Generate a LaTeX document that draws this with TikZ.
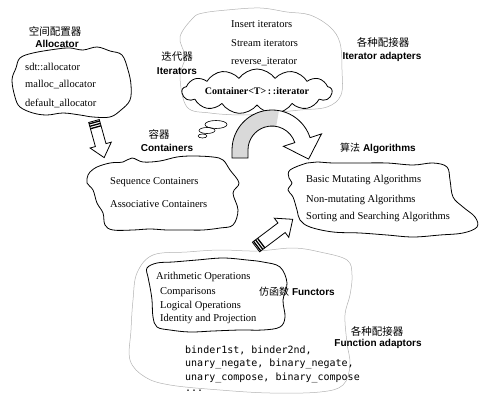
\documentclass[tikz,border=0pt]{standalone}
\usepackage{fontspec}
\setmainfont{Liberation Serif}
\setsansfont{Liberation Sans}
\setmonofont{DejaVu Sans Mono}
\newfontfamily\cjk{Noto Sans CJK SC}
\usetikzlibrary{calc,shapes.symbols}

\tikzset{
  blob/.style={line width=0.8pt, line join=round},
  halo/.style={gray!60, line width=0.5pt},
  item/.style={anchor=west, inner sep=0pt, font=\fontsize{10.5}{12}\selectfont},
  tag/.style={inner sep=0pt, font=\fontsize{10}{12}\sffamily\bfseries},
  zh/.style={inner sep=0pt, font=\fontsize{10.5}{12}\cjk},
  codeline/.style={anchor=west, inner sep=0pt, font=\fontsize{10}{12}\ttfamily},
  hollow/.style={line width=0.8pt, fill=white, line join=miter}
}

\begin{document}
\begin{tikzpicture}[x=1pt,y=-1pt]
  \useasboundingbox (0,0) rectangle (500,404);

  % allocator
  \node[zh] (alloczh) at (55,31) {空间配置器};
  \node[tag] (alloc) at (57,44) {Allocator};
  \draw[blob] plot[smooth cycle, tension=0.6] coordinates {(20,58) (33,53) (57,49) (70,48) (83,50) (97,47) (110,51) (122,55) (128,70) (131,85) (130,100) (121,110) (110,117) (93,117) (80,115) (63,113) (47,115) (33,113) (20,107) (15,97) (12,80) (16,68)};
  \node[item] (sdt) at (25,67) {sdt::allocator};
  \node[item] (malloc) at (25,85) {malloc\_allocator};
  \node[item] (default) at (25,103) {default\_allocator};

  % iterator adapters
  \draw[halo] plot[smooth cycle, tension=0.6] coordinates {(180,37) (193,18) (203,13) (227,10) (260,8) (287,12) (310,15) (330,27) (340,43) (342,70) (341,95) (327,107) (300,110) (270,113) (243,115) (210,113) (187,107) (180,77) (185,57)};
  \node[item] (insert) at (231,24) {Insert iterators};
  \node[item] (stream) at (231,43) {Stream iterators};
  \node[item] (reverse) at (231,62) {reverse\_iterator};
  \node[zh] (adaptzh) at (383,42) {各种配接器};
  \node[tag] (adapt) at (382,57) {Iterator adapters};
  \node[zh] (iterzh) at (177,57) {迭代器};
  \node[tag] (iter) at (177,71) {Iterators};

  \node[cloud, cloud ignores aspect, draw, blob, fill=white, cloud puffs=13, cloud puff arc=110,
        minimum width=150pt, minimum height=45pt, inner sep=0pt,
        font=\fontsize{10}{12}\selectfont\bfseries] (cit) at (257,91.5) {Container<T>\,:\,:iterator};
  \draw[blob, line width=0.6pt] (216,124.5) ellipse [x radius=11, y radius=4];
  \draw[blob, line width=0.6pt] (207,130.5) ellipse [x radius=8, y radius=3];
  \draw[blob, line width=0.6pt] (202.5,136) ellipse [x radius=4.5, y radius=2];

  % containers
  \node[zh] (contzh) at (159,134) {容器};
  \node[tag] (cont) at (167,148) {Containers};
  \draw[blob] plot[smooth cycle, tension=0.6] coordinates {(90,172) (97,167) (110,163) (123,162) (132,158) (143,162) (160,161) (177,157) (193,156) (213,157) (223,160) (230,170) (239,183) (233,193) (238,210) (233,225) (220,228) (203,230) (187,230) (167,230) (150,229) (133,230) (113,230) (105,225) (103,213) (97,203) (93,190) (87,183) (88,175)};
  \node[item] (seq) at (110,182) {Sequence Containers};
  \node[item] (assoc) at (110,204) {Associative Containers};

  % algorithms
  \node[tag] (algo) at (378,148) {{\cjk\mdseries 算法} Algorithms};
  \draw[blob] plot[smooth cycle, tension=0.6] coordinates {(290,170) (307,163) (317,162) (333,163) (360,163) (387,163) (413,165) (433,163) (447,167) (450,180) (453,197) (463,207) (475,217) (477,227) (463,233) (440,235) (413,237) (387,235) (360,233) (333,232) (310,227) (300,220) (297,210) (293,197) (288,190) (292,183) (289,178)};
  \node[item] (basic) at (306,180) {Basic Mutating Algorithms};
  \node[item] (nonmut) at (306,200) {Non-mutating Algorithms};
  \node[item] (sort) at (306,217) {Sorting and Searching Algorithms};

  % iterator -> algorithms
  \fill[white] (232,158) -- (232,150) arc[start angle=180, end angle=342, radius=40] -- (321.5,133.9) -- (308.6,159.1) -- (283.4,146.3) -- (294.8,142.6) arc[start angle=342, end angle=180, radius=24] -- (248,158) -- cycle;
  \fill[gray!30] (232,158) -- (232,150) arc[start angle=180, end angle=280, radius=40] -- ($(272,150)+(280:24)$) arc[start angle=280, end angle=180, radius=24] -- (248,158) -- cycle;
  \draw[blob, line join=miter] (232,158) -- (232,150) arc[start angle=180, end angle=342, radius=40] -- (321.5,133.9) -- (308.6,159.1) -- (283.4,146.3) -- (294.8,142.6) arc[start angle=342, end angle=180, radius=24] -- (248,158) -- cycle;

  % allocator -> containers
  \begin{scope}[shift={(94,121)}, rotate=-74.5]
    \draw[hollow] (0,-5.5) -- (25,-5.5) -- (25,-11) -- (38,0) -- (25,11) -- (25,5.5) -- (0,5.5) -- cycle;
    \foreach \s in {1.5,4,6.5} \draw[line width=1.3pt] (\s,-5.5) -- (\s,5.5);
  \end{scope}

  % function adaptors
  \draw[halo] plot[smooth cycle, tension=0.6] coordinates {(137,273) (153,255) (187,252) (220,250) (257,251) (293,248) (320,252) (347,260) (352,275) (350,295) (345,315) (347,343) (350,365) (343,385) (320,392) (270,393) (220,390) (170,385) (145,377) (130,360) (131,330) (133,300)};
  \draw[blob] plot[smooth cycle, tension=0.6] coordinates {(147,268) (157,263) (173,262) (197,260) (223,258) (247,260) (263,262) (280,267) (287,283) (283,300) (285,317) (280,327) (263,330) (240,330) (213,331) (190,332) (170,330) (157,327) (153,317) (152,300) (150,287) (148,277)};
  \node[item] (arith) at (156,277) {Arithmetic Operations};
  \node[item] (comp) at (160,292) {Comparisons};
  \node[item] (logic) at (160,306) {Logical Operations};
  \node[item] (ident) at (160,319) {Identity and Projection};
  \node[tag] (func) at (297,292) {{\cjk\mdseries 仿函数} Functors};
  \node[zh] (fadaptzh) at (377,331) {各种配接器};
  \node[tag] (fadapt) at (378,344) {Function adaptors};
  \node[codeline] (bind) at (185,350) {binder1st, binder2nd,};
  \node[codeline] (negate) at (185,364) {unary\_negate, binary\_negate,};
  \node[codeline] (compose) at (185,378) {unary\_compose, binary\_compose};
  \node[codeline] (more) at (185,391) {...};

  % functors -> algorithms
  \begin{scope}[shift={(256,247)}, rotate=37]
    \draw[hollow] (0,-6) -- (32,-6) -- (32,-12) -- (46,0) -- (32,12) -- (32,6) -- (0,6) -- cycle;
    \foreach \s in {1.5,4,6.5} \draw[line width=1.3pt] (\s,-6) -- (\s,6);
  \end{scope}
\end{tikzpicture}
\end{document}
